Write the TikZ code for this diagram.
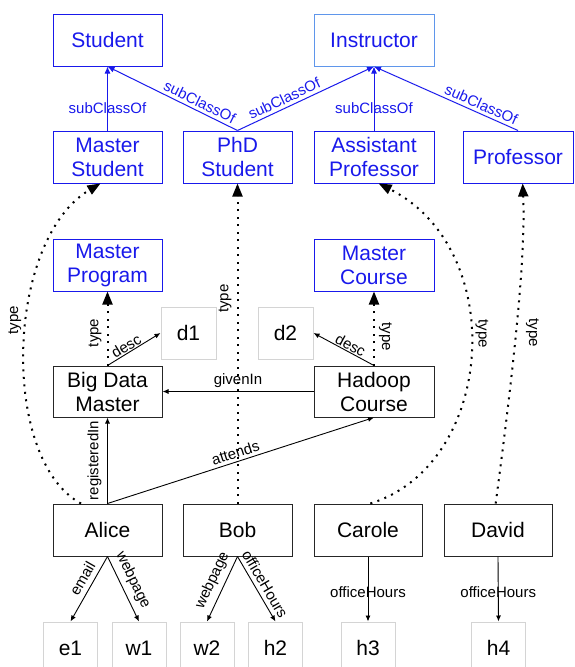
\documentclass[tikz,border=0pt]{standalone}
\usepackage{fontspec}
\setmainfont{Liberation Sans}
\usetikzlibrary{arrows.meta, positioning, calc}
\definecolor{clsblue}{RGB}{25,25,235}
\definecolor{lightblue}{RGB}{95,150,235}
\definecolor{litgray}{RGB}{212,212,212}

\begin{document}
\begin{tikzpicture}[x=1pt, y=-1pt,
  box/.style={minimum width=#1, minimum height=52pt, inner sep=0pt, align=center, line width=1pt, font=\fontsize{21}{24}\selectfont},
  cls/.style={box=#1, draw=clsblue, text=clsblue},
  inst/.style={box=#1, draw=black!85},
  lit/.style={box=#1, draw=litgray},
  lbl/.style={font=\fontsize{15}{17}\selectfont, inner sep=1pt},
  vup/.style={lbl, rotate=90, anchor=south, outer sep=5pt},
  vdown/.style={lbl, rotate=-90, anchor=south, outer sep=4pt},
  sub/.style={clsblue, line width=1pt, -{Latex[length=7pt,width=6pt]}},
  rel/.style={black, line width=0.9pt, -{Latex[length=6pt,width=5pt]}},
  typ/.style={black, line width=2pt, dash pattern=on 2pt off 5.5pt, -{Triangle[length=13pt,width=10pt]}}]
\useasboundingbox (0,0) rectangle (575,667);

% Classes
\node[cls=109pt] (student) at (107.5,40) {Student};
\node[cls=120pt, draw=lightblue] (instructor) at (374,40) {Instructor};
\node[cls=109pt] (mstudent) at (107.5,157) {Master\\Student};
\node[cls=109pt] (phd) at (237.5,157) {PhD\\Student};
\node[cls=120pt] (asst) at (374,157) {Assistant\\Professor};
\node[cls=110pt] (prof) at (518,157) {Professor};
\node[cls=109pt] (mprog) at (107.5,265) {Master\\Program};
\node[cls=120pt] (mcourse) at (374,265) {Master\\Course};

% Instances
\node[inst=109pt, minimum height=51pt] (bigdata) at (107.5,391.5) {Big Data\\Master};
\node[inst=120pt, minimum height=51pt] (hadoop) at (374,391.5) {Hadoop\\Course};
\node[inst=109pt] (alice) at (107.5,530) {Alice};
\node[inst=109pt] (bob) at (237.5,530) {Bob};
\node[inst=108pt] (carole) at (368,530) {Carole};
\node[inst=108pt] (david) at (498,530) {David};

% Literals
\node[lit=55pt] (d1) at (188.5,333) {d1};
\node[lit=55pt] (d2) at (285.5,333) {d2};
\foreach \n/\x in {e1/70.5, w1/139, w2/207, h2/275.5, h3/368, h4/498.5}
    \node[lit=54pt] (\n) at (\x,648) {\n};

% subClassOf
\draw[sub] (mstudent) -- node[lbl, pos=0.35] {subClassOf} (student);
\draw[sub] (phd.north) -- node[lbl, sloped, above=2pt, pos=0.32] {subClassOf} (student.south);
\draw[sub] (phd.north) -- node[lbl, sloped, above=2pt, pos=0.37] {subClassOf} (instructor.south);
\draw[sub] (asst) -- node[lbl, pos=0.35] {subClassOf} (instructor);
\draw[sub] (prof.north) -- node[lbl, sloped, above=2pt, pos=0.28] {subClassOf} (instructor.south);

% type
\draw[typ] (bigdata.north) -- node[vup, pos=0.44] {type} (mprog.south);
\draw[typ] (hadoop.north) -- node[vdown, pos=0.39] {type} (mcourse.south);
\draw[typ] (bob.north) -- node[vup, pos=0.64] {type} (phd.south);
\draw[typ] (alice.135) .. controls (0,460) and (5,240) .. node[vup, pos=0.57] {type} (mstudent.-105);
\draw[typ] (carole.85) .. controls (495,465) and (510,250) .. node[vdown, pos=0.55] {type} (asst.-80);
\draw[typ] (david.95) .. controls (512,380) and (526,260) .. node[vdown, pos=0.48, outer sep=9pt] {type} (prof.-80);

% relations between instances
\draw[rel] (bigdata.north) -- node[lbl, sloped, above, pos=0.42] {desc} (d1.west);
\draw[rel] (hadoop.north) -- node[lbl, sloped, above, pos=0.44] {desc} (d2.east);
\draw[rel] (hadoop.west) -- node[lbl, above=2pt] {givenIn} (bigdata.east);
\draw[rel] (alice.north) -- node[vup, pos=0.5] {registeredIn} (bigdata.south);
\draw[rel] (alice.north) -- node[lbl, sloped, above=2pt, pos=0.49] {attends} (hadoop.south);

% literal values
\draw[rel] (alice.south) -- node[lbl, sloped, above=4pt, pos=0.42] {email} (e1.north);
\draw[rel] (alice.south) -- node[lbl, sloped, above=4pt, pos=0.45] {webpage} (w1.north);
\draw[rel] (bob.south) -- node[lbl, sloped, above=4pt, pos=0.45] {webpage} (w2.north);
\draw[rel] (bob.south) -- node[lbl, sloped, above=3pt, pos=0.5] {officeHours} (h2.north);
\draw[rel] (carole.south) -- node[lbl, pos=0.55] {officeHours} (h3.north);
\draw[rel] (david.south) -- node[lbl, pos=0.55] {officeHours} (h4.north);
\end{tikzpicture}
\end{document}
